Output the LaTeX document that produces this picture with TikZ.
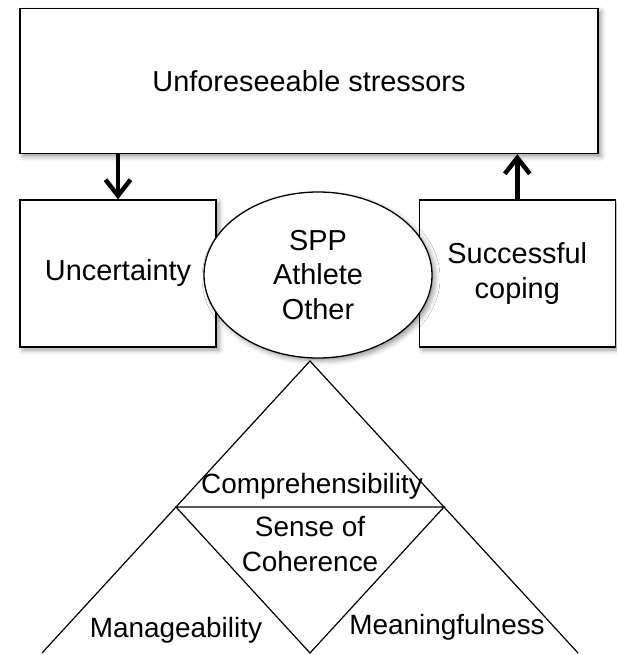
\documentclass[tikz,border=0pt]{standalone}
\usepackage{fontspec}
\setmainfont{Liberation Sans}
\usepackage{tikz}
\usetikzlibrary{positioning, shapes.geometric, arrows.meta, shadows.blur}

\begin{document}
\begin{tikzpicture}[x=1bp, y=1bp]

	\tikzstyle{arrow} = [line width=4.5bp, -{Straight Barb[length=16bp, width=25bp]}]
	\tikzstyle{box} = [draw, line width=1.3bp, fill=white, text centered, font=\fontsize{29}{34.5}\selectfont, blur shadow={shadow xshift=3bp, shadow yshift=-3bp, shadow blur radius=5bp}]
	\tikzstyle{tri} = [line width=1.2bp]
	\tikzstyle{tritext} = [font=\fontsize{28}{34.5}\selectfont, align=center, inner sep=0pt]

	\useasboundingbox (0,0) rectangle (617,-655);

	\node[box, minimum width=578bp, minimum height=145bp] (stress) at (309,-81) {Unforeseeable stressors};
	\node[box, minimum width=196bp, minimum height=147bp] (unc) at (118,-273.5) {Uncertainty};
	\node[box, minimum width=196bp, minimum height=147bp, align=center, right=202bp of unc] (cope) {Successful\\coping};
	\node[box, ellipse, minimum width=228bp, minimum height=166bp, align=center, inner sep=0pt] (spp) at (318,-275) {SPP\\Athlete\\Other};

	\draw[arrow] (stress.south -| unc.north) -- (unc.north);
	\draw[arrow] (cope.north) -- (cope.north |- stress.south);

	% sense of coherence triangle
	\coordinate (apex) at (310,-361);
	\coordinate (lbase) at (42,-653);
	\coordinate (rbase) at (578,-653);
	\coordinate (lmid) at (176,-507);
	\coordinate (rmid) at (444,-507);
	\coordinate (bmid) at (310,-653);
	\draw[tri] (lbase) -- (apex) -- (rbase);
	\draw[tri] (lmid) -- (rmid) -- (bmid) -- cycle;

	\node[tritext] (comp) at (312,-486) {Comprehensibility};
	\node[tritext] (soc) at (310,-544) {Sense of\\Coherence};
	\node[tritext] (manage) at (176,-630) {Manageability};
	\node[tritext] (mean) at (447,-627) {Meaningfulness};

\end{tikzpicture}
\end{document}
